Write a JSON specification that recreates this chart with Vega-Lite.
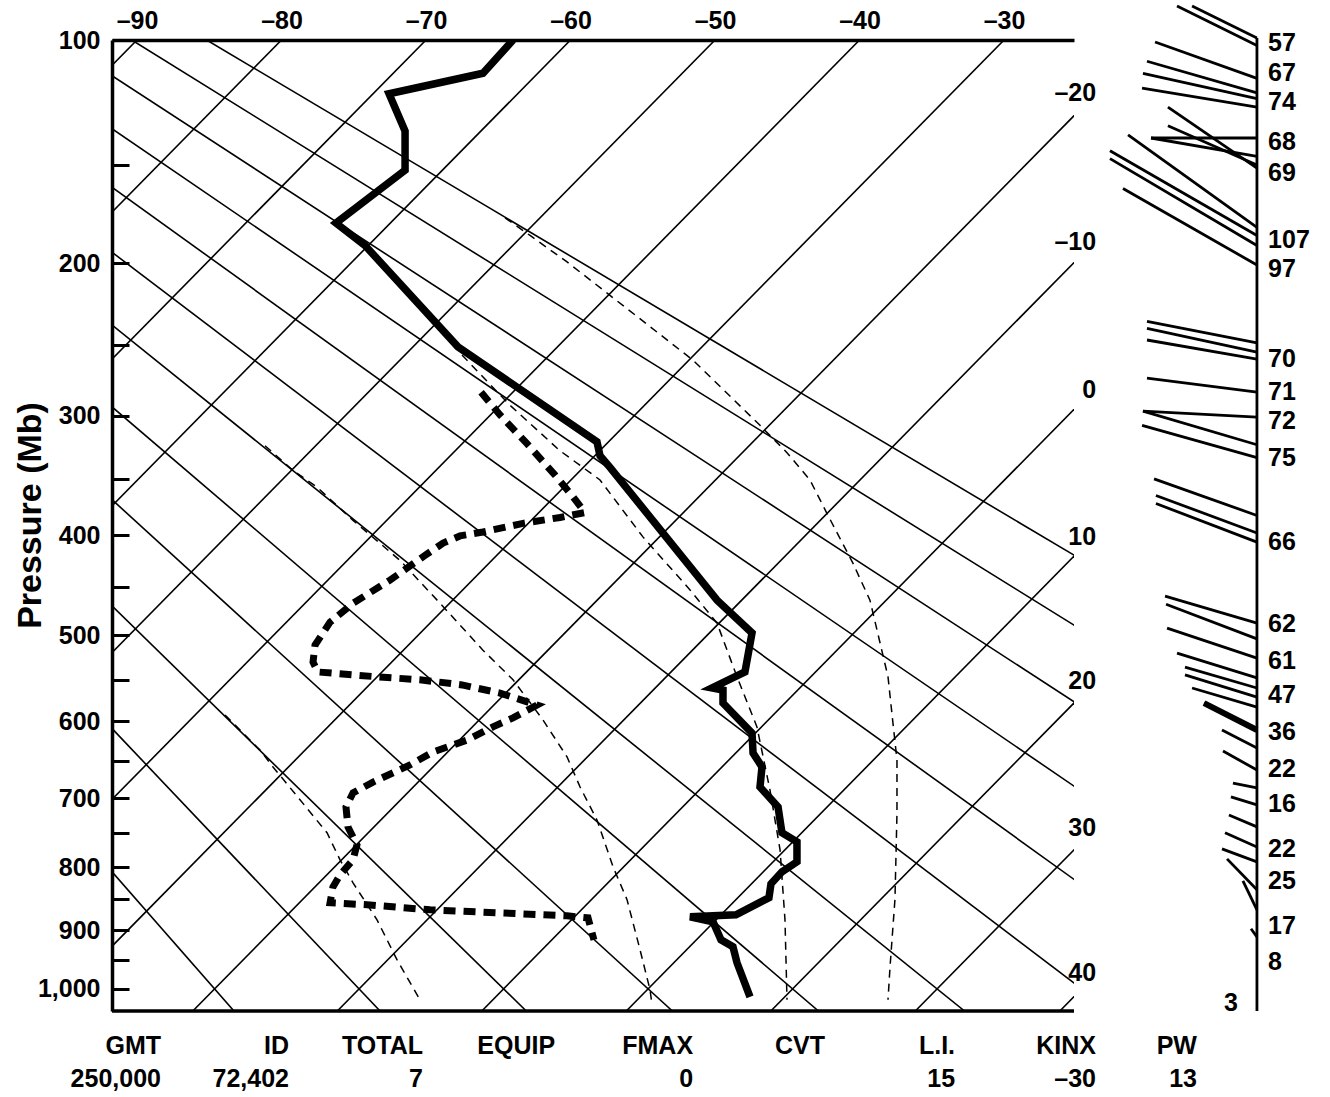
{
  "$schema": "https://vega.github.io/schema/vega-lite/v6.json",
  "width": 962,
  "height": 971,
  "autosize": {"type": "none"},
  "padding": {"left": 112, "top": 40, "right": 256, "bottom": 86},
  "background": "white",
  "config": {"view": {"stroke": null}, "font": "Liberation Sans"},
  "datasets": {
    "grid": [
      {"g":"t-90","X":-90,"p":100},{"g":"t-90","X":-156.14,"p":1040},
      {"g":"t-80","X":-80,"p":100},{"g":"t-80","X":-146.14,"p":1040},
      {"g":"t-70","X":-70,"p":100},{"g":"t-70","X":-136.14,"p":1040},
      {"g":"t-60","X":-60,"p":100},{"g":"t-60","X":-126.14,"p":1040},
      {"g":"t-50","X":-50,"p":100},{"g":"t-50","X":-116.14,"p":1040},
      {"g":"t-40","X":-40,"p":100},{"g":"t-40","X":-106.14,"p":1040},
      {"g":"t-30","X":-30,"p":100},{"g":"t-30","X":-96.14,"p":1040},
      {"g":"t-20","X":-20,"p":100},{"g":"t-20","X":-86.14,"p":1040},
      {"g":"t-10","X":-10,"p":100},{"g":"t-10","X":-76.14,"p":1040},
      {"g":"t0","X":0,"p":100},{"g":"t0","X":-66.14,"p":1040},
      {"g":"t10","X":10,"p":100},{"g":"t10","X":-56.14,"p":1040},
      {"g":"t20","X":20,"p":100},{"g":"t20","X":-46.14,"p":1040},
      {"g":"t30","X":30,"p":100},{"g":"t30","X":-36.14,"p":1040},
      {"g":"t40","X":40,"p":100},{"g":"t40","X":-26.14,"p":1040},
      {"g":"a-20","X":-142.12,"p":100},{"g":"a-20","X":-83.29,"p":1040},
      {"g":"a-10","X":-136.94,"p":100},{"g":"a-10","X":-73.18,"p":1040},
      {"g":"a0","X":-131.77,"p":100},{"g":"a0","X":-63.06,"p":1040},
      {"g":"a10","X":-126.59,"p":100},{"g":"a10","X":-52.95,"p":1040},
      {"g":"a20","X":-121.42,"p":100},{"g":"a20","X":-42.84,"p":1040},
      {"g":"a30","X":-116.24,"p":100},{"g":"a30","X":-32.73,"p":1040},
      {"g":"a40","X":-111.06,"p":100},{"g":"a40","X":-22.61,"p":1040},
      {"g":"a50","X":-105.89,"p":100},{"g":"a50","X":-12.5,"p":1040},
      {"g":"a60","X":-100.71,"p":100},{"g":"a60","X":-2.39,"p":1040},
      {"g":"a70","X":-95.54,"p":100},{"g":"a70","X":7.72,"p":1040},
      {"g":"a80","X":-90.36,"p":100},{"g":"a80","X":17.84,"p":1040},
      {"g":"a90","X":-85.18,"p":100},{"g":"a90","X":27.95,"p":1040}
    ],
    "dashed": [
      {"g":"a","X":-64.53,"p":175.6},{"g":"a","X":-62.8,"p":184.8},{"g":"a","X":-60.24,"p":199.3},{"g":"a","X":-57.27,"p":218.7},{"g":"a","X":-51.52,"p":260.2},{"g":"a","X":-46.89,"p":307.2},{"g":"a","X":-45.02,"p":328.7},{"g":"a","X":-43.43,"p":351.1},{"g":"a","X":-42.25,"p":380.2},{"g":"a","X":-40.45,"p":426.5},{"g":"a","X":-39.28,"p":463.2},{"g":"a","X":-38.58,"p":508.6},{"g":"a","X":-38.03,"p":546.7},{"g":"a","X":-37.69,"p":601.7},{"g":"a","X":-37.41,"p":648.7},{"g":"a","X":-37.41,"p":720.8},{"g":"a","X":-37.55,"p":850},{"g":"a","X":-37.89,"p":961.4},{"g":"a","X":-38.03,"p":1019.7},
      {"g":"b","X":-67.51,"p":256.7},{"g":"b","X":-64.19,"p":292.1},{"g":"b","X":-60.73,"p":327.1},{"g":"b","X":-57.96,"p":351.1},{"g":"b","X":-54.99,"p":401.4},{"g":"b","X":-51.73,"p":452.7},{"g":"b","X":-49.86,"p":487.2},{"g":"b","X":-48.48,"p":546.7},{"g":"b","X":-47.1,"p":606.7},{"g":"b","X":-46.2,"p":688.9},{"g":"b","X":-45.5,"p":774.1},{"g":"b","X":-45.16,"p":882.7},{"g":"b","X":-45.02,"p":1019.7},
      {"g":"c","X":-81.14,"p":323.1},{"g":"c","X":-79.21,"p":343.0},{"g":"c","X":-77.54,"p":357.2},{"g":"c","X":-75.05,"p":386.3},{"g":"c","X":-71.8,"p":423.6},{"g":"c","X":-69.03,"p":466.3},{"g":"c","X":-66.06,"p":516.5},{"g":"c","X":-63.98,"p":550.1},{"g":"c","X":-61.91,"p":598.0},{"g":"c","X":-60.24,"p":644.9},{"g":"c","X":-59.34,"p":684.9},{"g":"c","X":-58.17,"p":730.6},{"g":"c","X":-57.06,"p":799.3},{"g":"c","X":-56.09,"p":850.3},{"g":"c","X":-55.19,"p":932.4},{"g":"c","X":-54.5,"p":1001.6},{"g":"c","X":-54.36,"p":1028.8},
      {"g":"d","X":-83.91,"p":592.0},{"g":"d","X":-81.49,"p":636.0},{"g":"d","X":-80.59,"p":658.0},{"g":"d","X":-78.72,"p":702.4},{"g":"d","X":-76.85,"p":749.0},{"g":"d","X":-75.95,"p":788.9},{"g":"d","X":-75.05,"p":824.0},{"g":"d","X":-73.39,"p":882.7},{"g":"d","X":-72.01,"p":949.2},{"g":"d","X":-70.42,"p":1019.7}
    ],
    "dew": [
      {"X":-66.19,"p":282.6},{"X":-64.88,"p":299.3},{"X":-63.01,"p":321.5},{"X":-61.07,"p":347.0},{"X":-59.9,"p":364.3},{"X":-59.0,"p":379.3},{"X":-60.73,"p":383.7},{"X":-63.29,"p":389.0},{"X":-66.06,"p":396.9},{"X":-67.65,"p":400.5},{"X":-68.82,"p":407.2},{"X":-70.07,"p":418.8},{"X":-72.49,"p":442.9},{"X":-75.05,"p":466.3},{"X":-76.64,"p":486.1},{"X":-77.68,"p":510.9},{"X":-77.82,"p":529.9},{"X":-77.48,"p":541.1},{"X":-73.39,"p":546.7},{"X":-70.42,"p":550.1},{"X":-67.51,"p":556.1},{"X":-64.88,"p":565.7},{"X":-62.32,"p":580.0},{"X":-63.98,"p":595.6},{"X":-65.37,"p":606.7},{"X":-67.16,"p":623.3},{"X":-69.52,"p":638.6},{"X":-71.11,"p":655.4},{"X":-73.67,"p":678.2},{"X":-75.05,"p":692.9},{"X":-75.54,"p":712.3},{"X":-75.4,"p":740.6},{"X":-74.78,"p":766.7},{"X":-75.05,"p":788.9},{"X":-75.95,"p":811.6},{"X":-76.44,"p":830.2},{"X":-76.64,"p":855.2},{"X":-74.08,"p":858.4},{"X":-69.72,"p":866.5},{"X":-64.88,"p":871.4},{"X":-60.24,"p":876.2},{"X":-58.79,"p":879.4},{"X":-58.38,"p":915.6}
    ],
    "temp": [
      {"X":-63.98,"p":100},{"X":-66.06,"p":111.9},{"X":-72.56,"p":119.7},{"X":-71.45,"p":134.9},{"X":-71.45,"p":152.3},{"X":-76.23,"p":178.3},{"X":-74.22,"p":190.2},{"X":-67.79,"p":251.2},{"X":-58.17,"p":320.0},{"X":-57.96,"p":331.1},{"X":-57.27,"p":340.6},{"X":-49.86,"p":463.2},{"X":-47.44,"p":497.6},{"X":-47.93,"p":541.1},{"X":-50.21,"p":559.7},{"X":-49.45,"p":562.2},{"X":-49.45,"p":577.6},{"X":-47.44,"p":614.4},{"X":-47.37,"p":639.8},{"X":-46.75,"p":658.0},{"X":-46.89,"p":684.9},{"X":-45.64,"p":712.3},{"X":-45.37,"p":749.0},{"X":-44.33,"p":762.3},{"X":-44.33,"p":791.9},{"X":-45.37,"p":807.0},{"X":-46.13,"p":825.5},{"X":-46.27,"p":847.2},{"X":-48.55,"p":874.6},{"X":-51.73,"p":877.7},{"X":-50.14,"p":885.9},{"X":-49.59,"p":915.6},{"X":-48.76,"p":927.3},{"X":-48.48,"p":954.4},{"X":-47.58,"p":1014.3}
    ],
    "frame": [{"X":-91.73,"X2":-25.16,"p":1040}],
    "wind": [
      {"b":"staff","X":-12.5,"p":99.3},{"b":"staff","X":-12.5,"p":1040},
      {"b":"w1","X":-12.5,"p":99.3},{"b":"w1","X":-16.99,"p":88.8},
      {"b":"w2","X":-12.5,"p":101.9},{"b":"w2","X":-18.03,"p":88.8},
      {"b":"w3","X":-12.5,"p":113.8},{"b":"w3","X":-19.55,"p":100.7},
      {"b":"w4","X":-12.5,"p":119.4},{"b":"w4","X":-20.11,"p":107.5},
      {"b":"w5","X":-12.5,"p":121.6},{"b":"w5","X":-20.39,"p":111.9},
      {"b":"w6","X":-12.5,"p":125.0},{"b":"w6","X":-20.45,"p":117.5},
      {"b":"w7","X":-12.5,"p":137.9},{"b":"w7","X":-19.83,"p":137.9},
      {"b":"w8","X":-12.5,"p":146.0},{"b":"w8","X":-19.83,"p":137.9},
      {"b":"w9","X":-12.5,"p":151.4},{"b":"w9","X":-18.66,"p":125.0},
      {"b":"w10","X":-12.5,"p":149.9},{"b":"w10","X":-18.66,"p":132.7},
      {"b":"w11","X":-12.5,"p":180.5},{"b":"w11","X":-21.42,"p":136.6},
      {"b":"w12","X":-12.5,"p":184.8},{"b":"w12","X":-22.67,"p":143.5},
      {"b":"w13","X":-12.5,"p":190.2},{"b":"w13","X":-22.67,"p":147.0},
      {"b":"w14","X":-12.5,"p":201.0},{"b":"w14","X":-21.77,"p":161.0},
      {"b":"w15","X":-12.5,"p":248.6},{"b":"w15","X":-20.11,"p":234.7},
      {"b":"w16","X":-12.5,"p":254.7},{"b":"w16","X":-20.11,"p":239.1},
      {"b":"w17","X":-12.5,"p":259.5},{"b":"w17","X":-20.11,"p":246.7},
      {"b":"w18","X":-12.5,"p":282.6},{"b":"w18","X":-20.11,"p":272.5},
      {"b":"w19","X":-12.5,"p":300.9},{"b":"w19","X":-20.39,"p":296.4},
      {"b":"w20","X":-12.5,"p":322.3},{"b":"w20","X":-20.39,"p":296.4},
      {"b":"w21","X":-12.5,"p":332.7},{"b":"w21","X":-20.45,"p":307.2},
      {"b":"w22","X":-12.5,"p":381.9},{"b":"w22","X":-19.62,"p":350.2},
      {"b":"w23","X":-12.5,"p":397.8},{"b":"w23","X":-19.49,"p":364.3},
      {"b":"w24","X":-12.5,"p":406.3},{"b":"w24","X":-19.49,"p":371.3},
      {"b":"w25","X":-12.5,"p":487.2},{"b":"w25","X":-18.86,"p":459.0},
      {"b":"w26","X":-12.5,"p":504.1},{"b":"w26","X":-18.79,"p":467.3},
      {"b":"w27","X":-12.5,"p":525.4},{"b":"w27","X":-18.72,"p":492.4},
      {"b":"w28","X":-12.5,"p":547.9},{"b":"w28","X":-18.03,"p":519.8},
      {"b":"w29","X":-12.5,"p":559.7},{"b":"w29","X":-17.48,"p":535.5},
      {"b":"w30","X":-12.5,"p":570.5},{"b":"w30","X":-17.48,"p":544.5},
      {"b":"w31","X":-12.5,"p":582.4},{"b":"w31","X":-16.99,"p":559.7},
      {"b":"w32","X":-12.5,"p":610.6},{"b":"w32","X":-16.16,"p":577.6},
      {"b":"w33","X":-12.5,"p":633.5},{"b":"w33","X":-14.92,"p":610.6},
      {"b":"w34","X":-12.5,"p":662.1},{"b":"w34","X":-14.85,"p":637.3},
      {"b":"w35","X":-12.5,"p":686.2},{"b":"w35","X":-14.16,"p":679.5},
      {"b":"w36","X":-12.5,"p":709.5},{"b":"w36","X":-14.3,"p":698.3},
      {"b":"w37","X":-12.5,"p":740.5},{"b":"w37","X":-14.44,"p":723.6},
      {"b":"w38","X":-12.5,"p":769.7},{"b":"w38","X":-14.71,"p":749.0},
      {"b":"w39","X":-12.5,"p":791.9},{"b":"w39","X":-14.92,"p":772.6},
      {"b":"w40","X":-12.5,"p":834.8},{"b":"w40","X":-14.57,"p":787.4},
      {"b":"w41","X":-12.5,"p":866.5},{"b":"w41","X":-13.47,"p":820.9},
      {"b":"w42","X":-12.5,"p":910.6},{"b":"w42","X":-12.91,"p":897.2}
    ],
    "rightlab": [
      {"t":"–20","X":-23.63,"p":119.4},{"t":"–10","X":-23.63,"p":188.3},{"t":"0","X":-23.63,"p":281.0},{"t":"10","X":-23.63,"p":401.4},{"t":"20","X":-23.63,"p":551.4},{"t":"30","X":-23.63,"p":741.9},{"t":"40","X":-23.63,"p":971.8},
      {"t":"3","X":-13.81,"p":1025.2},
      {"t":"GMT","X":-88.34,"p":1105},{"t":"250,000","X":-88.34,"p":1169.3},
      {"t":"ID","X":-79.48,"p":1105},{"t":"72,402","X":-79.48,"p":1169.3},
      {"t":"TOTAL","X":-70.21,"p":1105},{"t":"7","X":-70.21,"p":1169.3},
      {"t":"EQUIP","X":-61.07,"p":1105},
      {"t":"FMAX","X":-51.52,"p":1105},{"t":"0","X":-51.52,"p":1169.3},
      {"t":"CVT","X":-42.39,"p":1105},
      {"t":"L.I.","X":-33.39,"p":1105},{"t":"15","X":-33.39,"p":1169.3},
      {"t":"KINX","X":-23.64,"p":1105},{"t":"–30","X":-23.64,"p":1169.3},
      {"t":"PW","X":-16.65,"p":1105},{"t":"13","X":-16.65,"p":1169.3}
    ],
    "windlab": [
      {"s":"57","X":-11.73,"p":101.1},{"s":"67","X":-11.73,"p":111.9},{"s":"74","X":-11.73,"p":123.1},{"s":"68","X":-11.73,"p":139.6},{"s":"69","X":-11.73,"p":153.4},{"s":"107","X":-11.73,"p":187.0},{"s":"97","X":-11.73,"p":203.4},{"s":"70","X":-11.73,"p":259.5},{"s":"71","X":-11.73,"p":282.6},{"s":"72","X":-11.73,"p":304.1},{"s":"75","X":-11.73,"p":332.7},{"s":"66","X":-11.73,"p":406.3},{"s":"62","X":-11.73,"p":488.2},{"s":"61","X":-11.73,"p":528.8},{"s":"47","X":-11.73,"p":568.1},{"s":"36","X":-11.73,"p":613.1},{"s":"22","X":-11.73,"p":660.7},{"s":"16","X":-11.73,"p":708.1},{"s":"22","X":-11.73,"p":772.6},{"s":"25","X":-11.73,"p":820.9},{"s":"17","X":-11.73,"p":892.4},{"s":"8","X":-11.73,"p":952.5}
    ]
  },
  "encoding": {
    "x": {
      "field": "X", "type": "quantitative",
      "scale": {"domain": [-91.73, -25.16], "nice": false, "zero": false},
      "axis": {
        "orient": "top", "values": [-90, -80, -70, -60, -50, -40, -30],
        "labelExpr": "datum.value < 0 ? '–' + abs(datum.value) : '' + datum.value",
        "ticks": false, "grid": false, "title": null,
        "domainColor": "black", "domainWidth": 3.5,
        "labelPadding": 7, "labelFontSize": 25, "labelFontWeight": "bold", "labelColor": "black",
        "labelFlush": false, "labelOverlap": false
      }
    },
    "y": {
      "field": "p", "type": "quantitative",
      "scale": {"type": "pow", "exponent": 0.286, "domain": [100, 1040], "reverse": true, "nice": false, "zero": false},
      "axis": {
        "orient": "left",
        "values": [100,150,200,250,300,350,400,450,500,550,600,650,700,750,800,850,900,950,1000],
        "labelExpr": "datum.value % 100 === 0 ? format(datum.value, ',') : ''",
        "title": "Pressure (Mb)", "titleFontSize": 34, "titleFontWeight": "bold", "titleColor": "black",
        "titleX": -82, "titleY": 475, "titleAngle": -90, "titleAlign": "center", "titleBaseline": "middle",
        "tickSize": -17, "tickWidth": 3, "tickColor": "black",
        "domainColor": "black", "domainWidth": 3.5, "grid": false,
        "labelPadding": 29, "labelFontSize": 25, "labelFontWeight": "bold", "labelColor": "black",
        "labelFlush": false, "labelOverlap": false
      }
    }
  },
  "layer": [
    {
      "data": {"name": "grid"},
      "mark": {"type": "line", "clip": true, "color": "black", "strokeWidth": 1.6},
      "encoding": {"detail": {"field": "g"}, "order": {"value": null}}
    },
    {
      "data": {"name": "dashed"},
      "mark": {"type": "line", "clip": true, "color": "black", "strokeWidth": 1.5, "strokeDash": [8, 6]},
      "encoding": {"detail": {"field": "g"}, "order": {"value": null}}
    },
    {
      "data": {"name": "dew"},
      "mark": {"type": "line", "clip": true, "color": "black", "strokeWidth": 7, "strokeDash": [12, 8]},
      "encoding": {"order": {"value": null}}
    },
    {
      "data": {"name": "temp"},
      "mark": {"type": "line", "clip": true, "color": "black", "strokeWidth": 7.5},
      "encoding": {"order": {"value": null}}
    },
    {
      "data": {"name": "frame"},
      "mark": {"type": "rule", "color": "black", "strokeWidth": 3.5},
      "encoding": {"x2": {"field": "X2"}}
    },
    {
      "data": {"name": "wind"},
      "mark": {"type": "line", "color": "black", "strokeWidth": 2.8},
      "encoding": {"detail": {"field": "b"}, "order": {"value": null}}
    },
    {
      "data": {"name": "wind"},
      "transform": [{"filter": "datum.b == 'w32'"}],
      "mark": {"type": "line", "color": "black", "strokeWidth": 6},
      "encoding": {"detail": {"field": "b"}, "order": {"value": null}}
    },
    {
      "data": {"name": "rightlab"},
      "mark": {"type": "text", "align": "right", "baseline": "middle", "fontSize": 25, "fontWeight": "bold", "fill": "black"},
      "encoding": {
        "x": {"field": "X", "type": "quantitative"},
        "y": {"field": "p", "type": "quantitative"},
        "text": {"field": "t", "type": "nominal"}
      }
    },
    {
      "data": {"name": "windlab"},
      "mark": {"type": "text", "align": "left", "baseline": "middle", "fontSize": 25, "fontWeight": "bold", "fill": "black"},
      "encoding": {
        "x": {"field": "X", "type": "quantitative"},
        "y": {"field": "p", "type": "quantitative"},
        "text": {"field": "s", "type": "nominal"}
      }
    }
  ]
}
